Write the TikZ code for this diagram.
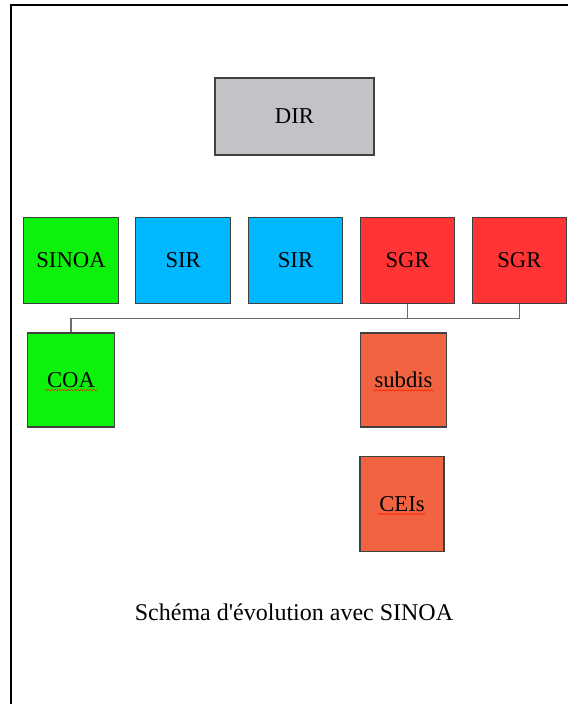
\documentclass[tikz,border=0pt]{standalone}
\usepackage{fontspec}
\setmainfont{Liberation Serif}
\usepackage{tikz}
\usetikzlibrary{shapes,decorations.pathmorphing}
\definecolor{dirgray}{HTML}{C4C2C6}
\definecolor{sinoagreen}{HTML}{0CF20C}
\definecolor{sirblue}{HTML}{00B8FF}
\definecolor{sgrred}{HTML}{FF3434}
\definecolor{subred}{HTML}{F26441}
\definecolor{boxline}{HTML}{404040}
\tikzstyle{orgbox}=[rectangle,draw=boxline,line width=0.8pt,inner sep=0pt,font=\fontsize{17}{20}\selectfont]
\tikzstyle{rowbox}=[orgbox,minimum width=71pt,minimum height=65pt]
\tikzstyle{lowbox}=[orgbox,minimum width=64.5pt,minimum height=70.5pt]
\tikzstyle{link}=[draw=gray!85!black,line width=0.8pt]
\tikzstyle{spell}=[draw=red!80!orange,line width=0.4pt,decorate,decoration={snake,amplitude=0.5pt,segment length=2.4pt}]

\begin{document}
\begin{tikzpicture}[x=0.75pt,y=-0.75pt]
        \useasboundingbox (0,0) rectangle (568,704);
        \draw[line width=1pt] (11,704) -- (11,5) -- (568,5);
        \node[orgbox,fill=dirgray,minimum width=119.25pt,minimum height=57.75pt] (dir) at (294.5,116.5) {DIR};
        \node[rowbox,fill=sinoagreen] (sinoa) at (71,260.5) {SINOA};
        \node[rowbox,fill=sirblue] (sirA) at (183.2,260.5) {SIR};
        \node[rowbox,fill=sirblue] (sirB) at (295.5,260.5) {SIR};
        \node[rowbox,fill=sgrred] (sgrA) at (407.6,260.5) {SGR};
        \node[rowbox,fill=sgrred] (sgrB) at (519.4,260.5) {SGR};
        \node[lowbox,fill=sinoagreen,minimum width=65.25pt] (coa) at (71,380) {COA};
        \node[lowbox,fill=subred] (subdis) at (403.5,380) {subdis};
        \node[lowbox,fill=subred,minimum width=63pt,minimum height=71.25pt] (ceis) at (402,504) {CEIs};
        \node[font=\fontsize{18}{22}\selectfont,inner sep=0pt] (caption) at (294,612) {Schéma d\textquotesingle évolution avec SINOA};
        % bus under the SGR boxes
        \coordinate (bus) at (sgrA.south |- 0,318.3);
        \draw[link] (sgrA.south) -- (bus) -| (coa.north);
        \draw[link] (sgrB.south) |- (bus);
        % spelling marks
        \draw[spell] ([xshift=-19.5pt,yshift=-2pt]coa.base) -- ([xshift=19.5pt,yshift=-2pt]coa.base);
        \draw[spell] ([xshift=-23pt,yshift=-2pt]subdis.base) -- ([xshift=23pt,yshift=-2pt]subdis.base);
        \draw[spell] ([xshift=-18pt,yshift=-2pt]ceis.base) -- ([xshift=18pt,yshift=-2pt]ceis.base);
\end{tikzpicture}
\end{document}
